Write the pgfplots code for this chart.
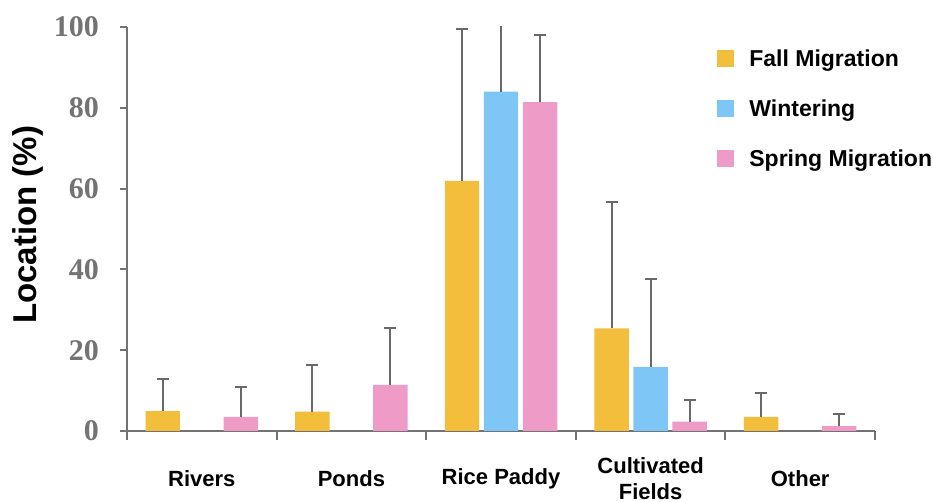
\documentclass[border=0pt]{standalone}
\usepackage{fontspec}
\setmainfont{Liberation Sans}
\newfontfamily\tnr{Liberation Serif}
\usepackage{pgfplots}
\pgfplotsset{compat=1.18}
\definecolor{cfall}{RGB}{242,190,60}
\definecolor{cwint}{RGB}{125,198,245}
\definecolor{cspr}{RGB}{238,155,200}
\definecolor{axgray}{RGB}{115,115,115}
\definecolor{errgray}{RGB}{105,105,105}
\begin{document}
\begin{tikzpicture}
\begin{axis}[
  scale only axis,
  width=748pt, height=404pt,
  xmin=-0.5, xmax=4.5, ymin=0, ymax=100,
  axis lines=left,
  axis line style={-, axgray, line width=2pt},
  ytick={0,20,40,60,80,100},
  yticklabel style={font=\tnr\bfseries\fontsize{30}{30}\selectfont, text=axgray, anchor=east, inner sep=0pt, xshift=-21pt},
  /pgf/number format/assume math mode=true,
  ytick style={axgray, line width=2pt},
  tick align=outside,
  major tick length=7pt,
  xtick={0,1,2,3,4},
  xticklabels={Rivers, Ponds, Rice Paddy, Cultivated\\Fields, Other},
  xtick style={draw=none},
  xticklabel style={font=\bfseries\fontsize{22}{26}\selectfont, align=center, anchor=center, yshift=-41pt},
  extra x ticks={-0.5,0.5,1.5,2.5,3.5,4.5},
  extra x tick labels={},
  extra x tick style={xtick style={draw=axgray, line width=2pt}, major tick length=9pt},
  ylabel={Location (\%)},
  ylabel style={font=\bfseries\fontsize{33}{33}\selectfont, at={(axis description cs:-0.133,0.51)}, anchor=center, rotate=0},
  bar width=0.23,
  legend style={draw=none, fill=none, at={(rel axis cs:0.785,0.95)}, anchor=north west,
    font=\bfseries\fontsize{23}{23}\selectfont, row sep=32pt, legend cell align=left,
    nodes={inner sep=0pt}},
  legend image code/.code={\fill[#1] (0pt,-8.5pt) rectangle (17pt,8.5pt);},
  legend style={/tikz/every odd column/.append style={column sep=15pt}},
  error bars/y dir=plus,
  error bars/y explicit,
  error bars/error bar style={errgray, line width=2pt},
  error bars/error mark options={errgray, line width=2pt, mark size=6pt, rotate=90},
]
\coordinate (O) at (rel axis cs:0,0);
\addplot[ybar, bar shift=0, fill=cfall, draw=none] coordinates {
  (-0.261,4.9) +- (0,7.9)
  (0.739,4.8) +- (0,11.5)
  (1.739,61.9) +- (0,37.5)
  (2.739,25.4) +- (0,31.4)
  (3.739,3.5) +- (0,6.0)
};
\addlegendentry{Fall Migration}
\addplot[ybar, bar shift=0, fill=cwint, draw=none] coordinates {
  (2,84.0) +- (0,16.5)
  (3,15.9) +- (0,21.6)
};
\addlegendentry{Wintering}
\addplot[ybar, bar shift=0, fill=cspr, draw=none] coordinates {
  (0.261,3.5) +- (0,7.5)
  (1.261,11.4) +- (0,14.1)
  (2.261,81.4) +- (0,16.7)
  (3.261,2.3) +- (0,5.4)
  (4.261,1.2) +- (0,2.9)
};
\addlegendentry{Spring Migration}
\end{axis}
\pgfresetboundingbox
\path (O) ++(-127pt,-71pt) rectangle ++(933pt,502pt);
\end{tikzpicture}
\end{document}
